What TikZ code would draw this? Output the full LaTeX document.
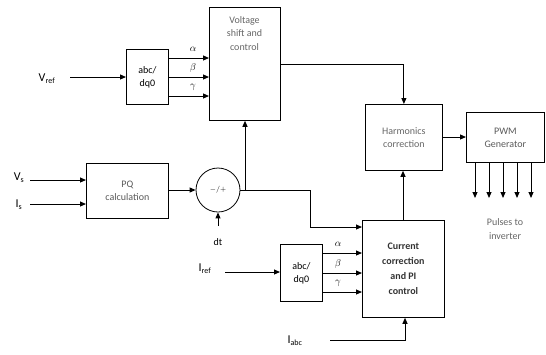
\documentclass[tikz,border=0pt]{standalone}
\usepackage{fontspec}
\setmainfont{Carlito}
\usetikzlibrary{arrows.meta}
\begin{document}
\begin{tikzpicture}[x=1pt,y=-1pt,
  blk/.style={draw,line width=0.8pt,align=center,inner sep=0pt,font=\fontsize{10}{13}\selectfont},
  conn/.style={line width=1pt,-{Triangle[length=6pt,width=5pt]}},
  plain/.style={line width=1pt},
  lbl/.style={font=\fontsize{12}{14}\selectfont,inner sep=1pt}]
\useasboundingbox (0,0) rectangle (546,354);
% blocks
\node[blk,minimum width=71pt,minimum height=113pt,anchor=north west] (vs) at (209,7) {};
\node[text=black!60,align=center,font=\fontsize{10}{13.5}\selectfont,anchor=north] (vstext) at (244.5,13) {Voltage\\shift and\\control};
\node[blk,minimum width=42pt,minimum height=55pt,anchor=north west] (ab1) at (126,49) {abc/\\dq0};
\node[blk,minimum width=77pt,minimum height=66pt,anchor=north west,text=black!60] (hc) at (365,104) {Harmonics\\correction};
\node[blk,minimum width=78pt,minimum height=50pt,anchor=north west,text=black!65] (pwm) at (466,112) {PWM\\Generator};
\node[blk,minimum width=82pt,minimum height=55pt,anchor=north west,text=black!65] (pq) at (86,163) {PQ\\calculation};
\node[draw,circle,line width=0.8pt,minimum size=44pt,inner sep=0pt,font=\fontsize{7}{8}\selectfont] (c) at (218,190) {$-/+$};
\node[blk,minimum width=82pt,minimum height=97pt,anchor=north west,font=\fontsize{10}{15}\selectfont\bfseries,text=black!80] (cc) at (362,220) {Current\\correction\\and PI\\control};
\node[blk,minimum width=42pt,minimum height=57pt,anchor=north west] (ab2) at (280,244) {abc/\\dq0};
% labels
\node[lbl] (vref) at (47,79) {V$_{\mathrm{ref}}$};
\node[lbl] (vsl) at (19,178) {V$_{\mathrm{s}}$};
\node[lbl] (isl) at (19,205) {I$_{\mathrm{s}}$};
\node[lbl,font=\fontsize{10}{12}\selectfont] (dt) at (218,242) {dt};
\node[lbl] (iref) at (205,269) {I$_{\mathrm{ref}}$};
\node[lbl] (iabc) at (295,341) {I$_{\mathrm{abc}}$};
\node[align=center,text=black!60,font=\fontsize{10}{14}\selectfont] (pul) at (505,229) {Pulses to\\inverter};
% coordinates
\coordinate (vrefE) at (70,77);
\coordinate (vsE) at (30,180);
\coordinate (isE) at (30,204);
\coordinate (dtE) at (218,226);
\coordinate (irefE) at (225,272);
\coordinate (iabcE) at (330,340);
% connectors
\draw[conn] (vrefE) -- (vrefE -| ab1.west);
\foreach \y/\t in {58/$\alpha$,77/$\beta$,96/$\gamma$}{
  \draw[conn] (168,\y) -- (209,\y);
  \node[lbl,font=\fontsize{10}{11}\selectfont] at (193,\y-9) {\t};
}
\draw[conn] (280,64) -| (hc.north);
\draw[conn] (hc.east |- 0,137) -- (pwm.west |- 0,137);
\foreach \x in {475,489,503,517,531}{
  \draw[conn] (\x,162) -- (\x,198);
}
\draw[conn] (vsE) -- (vsE -| pq.west);
\draw[conn] (isE) -- (isE -| pq.west);
\draw[conn] (pq.east |- c) -- (c.west);
\draw[conn] (dtE) -- (c.south);
\draw[plain] (c.east) -- (310,190);
\draw[conn] (310,190) |- (cc.west |- 0,227);
\draw[conn] (245,190) -- (vs.south -| 245,0);
\draw[conn] (cc.north -| 403,0) -- (hc.south -| 403,0);
\draw[conn] (irefE) -- (irefE -| ab2.west);
\foreach \y/\t in {253/$\alpha$,273/$\beta$,292/$\gamma$}{
  \draw[conn] (322,\y) -- (362,\y);
  \node[lbl,font=\fontsize{10}{11}\selectfont] at (338,\y-9) {\t};
}
\draw[conn] (iabcE) -| (cc.south -| 405,0);
\end{tikzpicture}
\end{document}
